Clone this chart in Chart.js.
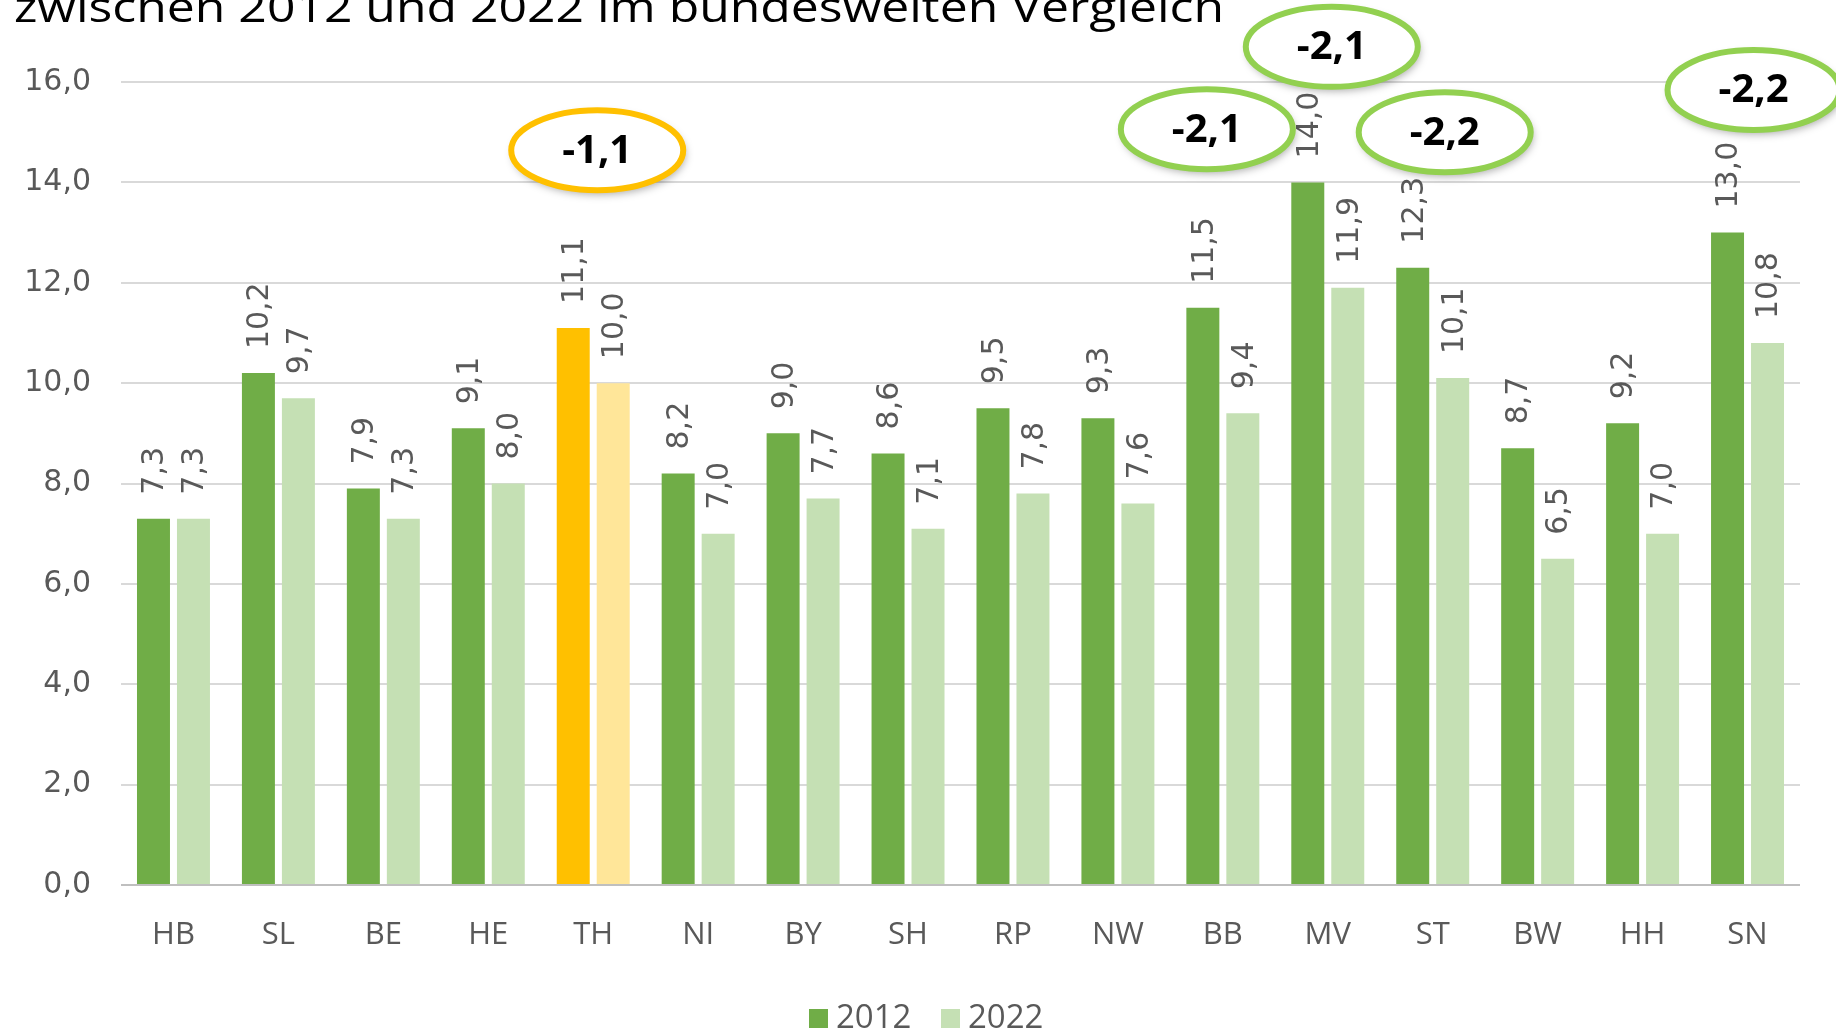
<!DOCTYPE html>
<html>
<head>
<meta charset="utf-8">
<script src="https://cdn.jsdelivr.net/npm/chart.js@4.4.1/dist/chart.umd.min.js"></script>
<style>
  html, body { margin: 0; padding: 0; background: #fff; overflow: hidden; }
  #wrap { width: 1836px; height: 1032px; position: relative; }
</style>
</head>
<body>
<div id="wrap"><canvas id="chart" width="1836" height="1032"></canvas></div>
<script>
const titleText = "zwischen 2012 und 2022 im bundesweiten Vergleich";
const states = ["HB", "SL", "BE", "HE", "TH", "NI", "BY", "SH", "RP", "NW", "BB", "MV", "ST", "BW", "HH", "SN"];
const values2012 = [7.3, 10.2, 7.9, 9.1, 11.1, 8.2, 9.0, 8.6, 9.5, 9.3, 11.5, 14.0, 12.3, 8.7, 9.2, 13.0];
const values2022 = [7.3, 9.7, 7.3, 8.0, 10.0, 7.0, 7.7, 7.1, 7.8, 7.6, 9.4, 11.9, 10.1, 6.5, 7.0, 10.8];
const seriesNames = ["2012", "2022"];
const yTicks = [0, 2, 4, 6, 8, 10, 12, 14, 16];
const highlightState = "TH";
const changeStates = ["TH", "BB", "MV", "ST", "SN"];
const changeValues = [-1.1, -2.1, -2.1, -2.2, -2.2];

// where the rings sit: y in axis units, dx in px from the category centre
const ringPlace = [
  { y: 14.64, dx: 4 },
  { y: 15.06, dx: -16 },
  { y: 16.7, dx: 4 },
  { y: 15.0, dx: 12 },
  { y: 15.84, dx: 6 },
];

const dark = "#70AD47", light = "#C5E0B4";
const darkHi = "#FFC000", lightHi = "#FFE699";
const textGrey = "#595959";

const fmt = (v) => v.toFixed(1).replace(".", ",");
const colorsFor = (base, hi) => states.map((s) => (s === highlightState ? hi : base));

const titlePlugin = {
  id: "title",
  afterDraw(chart) {
    const ctx = chart.ctx;
    ctx.save();
    ctx.font = '42px "Open Sans"';
    ctx.fillStyle = "#000";
    ctx.textBaseline = "alphabetic";
    const w = ctx.measureText(titleText).width;
    ctx.translate(14, 22);
    ctx.scale(1210 / w, 1);
    ctx.fillText(titleText, 0, 0);
    ctx.restore();
  },
};

const barLabels = {
  id: "barLabels",
  afterDatasetsDraw(chart) {
    const ctx = chart.ctx;
    ctx.save();
    ctx.font = '30px "DejaVu Sans"';
    ctx.fillStyle = textGrey;
    ctx.textAlign = "left";
    ctx.textBaseline = "middle";
    chart.data.datasets.forEach((ds, di) => {
      chart.getDatasetMeta(di).data.forEach((bar, i) => {
        ctx.save();
        ctx.translate(bar.x + 2, bar.y - 24);
        ctx.rotate(-Math.PI / 2);
        ctx.fillText(fmt(ds.data[i]), 0, 0);
        ctx.restore();
      });
    });
    ctx.restore();
  },
};

const rings = {
  id: "rings",
  afterDraw(chart) {
    const ctx = chart.ctx;
    const xs = chart.scales.x, ys = chart.scales.y;
    changeStates.forEach((s, k) => {
      const idx = states.indexOf(s);
      const cx = xs.getPixelForValue(idx) + ringPlace[k].dx;
      const cy = ys.getPixelForValue(ringPlace[k].y);
      ctx.save();
      ctx.beginPath();
      ctx.ellipse(cx, cy, 86, 40, 0, 0, Math.PI * 2);
      ctx.shadowColor = "rgba(0,0,0,0.35)";
      ctx.shadowBlur = 8;
      ctx.shadowOffsetX = 2;
      ctx.shadowOffsetY = 4;
      ctx.fillStyle = "#fff";
      ctx.fill();
      ctx.shadowColor = "transparent";
      ctx.lineWidth = 6;
      ctx.strokeStyle = s === highlightState ? "#FFC000" : "#92D050";
      ctx.stroke();
      ctx.fillStyle = "#000";
      ctx.font = 'bold 40px "Open Sans"';
      ctx.textAlign = "center";
      ctx.textBaseline = "middle";
      ctx.fillText(fmt(changeValues[k]), cx, cy + 1);
      ctx.restore();
    });
  },
};

const legendBoxes = {
  id: "legendBoxes",
  afterDraw(chart) {
    const ctx = chart.ctx;
    const spots = [809, 941];
    ctx.save();
    ctx.font = '33px "Open Sans"';
    ctx.textBaseline = "middle";
    ctx.textAlign = "left";
    chart.data.datasets.forEach((ds, i) => {
      ctx.fillStyle = i === 0 ? dark : light;
      ctx.fillRect(spots[i], 1009, 19, 19);
      ctx.fillStyle = textGrey;
      ctx.fillText(ds.label, spots[i] + 27, 1019);
    });
    ctx.restore();
  },
};

new Chart(document.getElementById("chart"), {
  type: "bar",
  data: {
    labels: states,
    datasets: [
      { label: seriesNames[0], data: values2012, backgroundColor: colorsFor(dark, darkHi) },
      { label: seriesNames[1], data: values2022, backgroundColor: colorsFor(light, lightHi) },
    ],
  },
  options: {
    responsive: false,
    animation: false,
    devicePixelRatio: 1,
    layout: { padding: { top: 82, right: 36, left: 0, bottom: 0 } },
    datasets: { bar: { categoryPercentage: 0.762, barPercentage: 0.825 } },
    plugins: { legend: { display: false }, tooltip: { enabled: false } },
    scales: {
      x: {
        grid: { display: false },
        border: { display: false },
        ticks: { font: { family: "Open Sans", size: 31 }, color: textGrey, padding: 24, maxRotation: 0 },
        afterFit: (s) => { s.height = 147; },
      },
      y: {
        min: 0,
        max: 16,
        afterBuildTicks: (s) => { s.ticks = yTicks.map((v) => ({ value: v })); },
        grid: {
          color: (c) => (c.tick && c.tick.value === 0 ? "#bfbfbf" : "#d9d9d9"),
          lineWidth: 2,
          drawTicks: false,
        },
        border: { display: false },
        ticks: { font: { family: "DejaVu Sans", size: 30 }, color: textGrey, padding: 30, callback: (v) => fmt(v) },
        afterFit: (s) => { s.width = 121; },
      },
    },
  },
  plugins: [barLabels, rings, legendBoxes, titlePlugin],
});
</script>
</body>
</html>
